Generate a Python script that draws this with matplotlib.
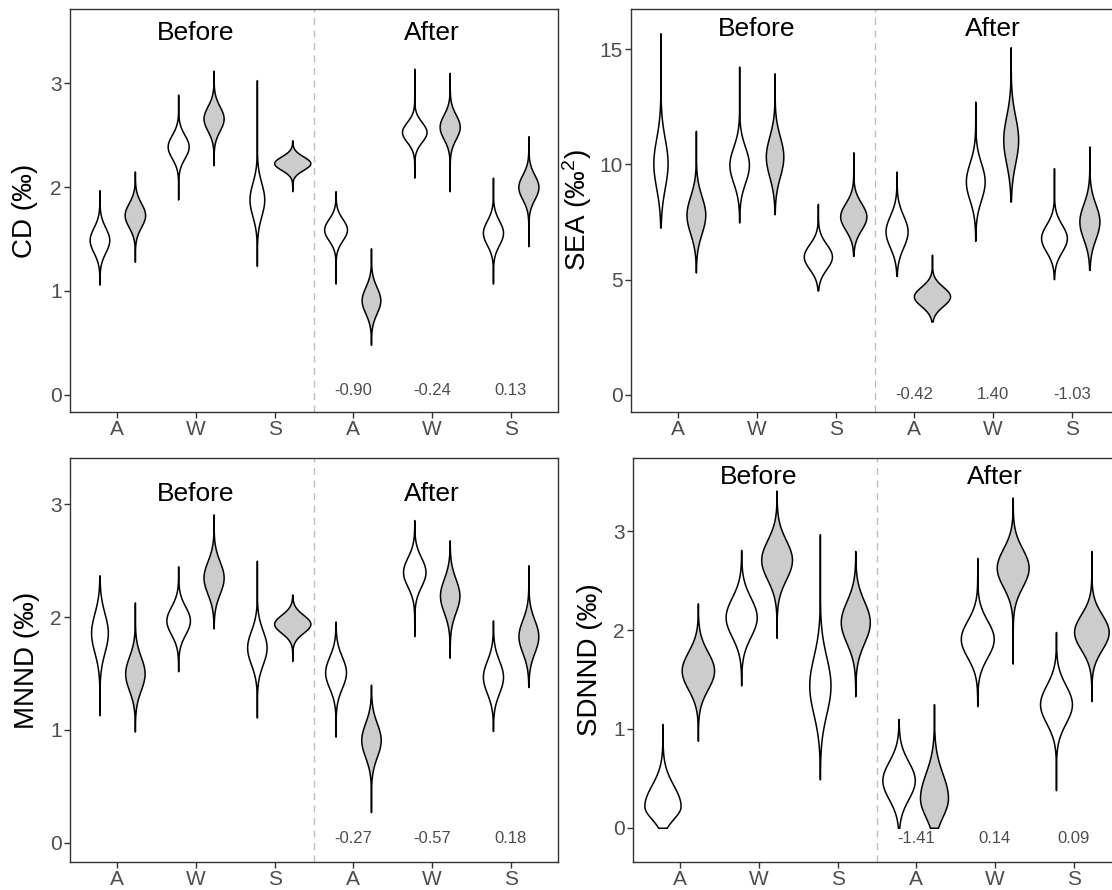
import numpy as np
import matplotlib.pyplot as plt

plt.rcParams["font.family"] = ["Liberation Sans", "DejaVu Sans"]
plt.rcParams["mathtext.fontset"] = "custom"
plt.rcParams["mathtext.rm"] = "Liberation Sans"
plt.rcParams["mathtext.it"] = "Liberation Sans:italic"

# ── Data ──────────────────────────────────────────────────────────────────────
# x groups: season within period; each group has a white and a grey violin
seasons = ["A", "W", "S", "A", "W", "S"]
periods = ["Before", "After"]

# Per violin (A-white, A-grey, W-white, W-grey, S-white, S-grey; before then after):
# posterior mode, spread, lower/upper tail ends
CD_mid = [1.49, 1.73, 2.39, 2.66, 1.88, 2.23, 1.59, 0.91, 2.53, 2.58, 1.56, 2.00]
CD_sd = [0.12, 0.115, 0.112, 0.117, 0.16, 0.065, 0.103, 0.126, 0.096, 0.117, 0.117, 0.117]
CD_lo = [1.06, 1.28, 1.88, 2.21, 1.24, 1.96, 1.07, 0.48, 2.09, 1.96, 1.07, 1.43]
CD_hi = [1.97, 2.15, 2.89, 3.12, 3.03, 2.45, 1.96, 1.41, 3.14, 3.10, 2.09, 2.49]
CD_diff = [-0.90, -0.24, 0.13]

SEA_mid = [10.05, 7.81, 9.98, 10.34, 6.00, 7.74, 7.09, 4.27, 9.26, 11.07, 6.80, 7.52]
SEA_sd = [1.07, 0.81, 0.78, 0.87, 0.54, 0.58, 0.69, 0.42, 0.81, 1.02, 0.59, 0.76]
SEA_lo = [7.26, 5.31, 7.48, 7.84, 4.53, 6.03, 5.16, 3.18, 6.68, 8.39, 5.02, 5.42]
SEA_hi = [15.70, 11.46, 14.25, 13.96, 8.29, 10.53, 9.69, 6.08, 12.73, 15.09, 9.84, 10.78]
SEA_diff = [-0.42, 1.40, -1.03]

MNND_mid = [1.86, 1.50, 1.97, 2.35, 1.73, 1.94, 1.51, 0.91, 2.40, 2.19, 1.47, 1.83]
MNND_sd = [0.173, 0.149, 0.123, 0.144, 0.149, 0.08, 0.139, 0.149, 0.129, 0.149, 0.144, 0.146]
MNND_lo = [1.13, 0.985, 1.52, 1.90, 1.11, 1.61, 0.94, 0.27, 1.83, 1.64, 0.99, 1.38]
MNND_hi = [2.37, 2.13, 2.45, 2.91, 2.50, 2.20, 1.96, 1.40, 2.86, 2.68, 1.97, 2.46]
MNND_diff = [-0.27, -0.57, 0.18]

SDNND_mid = [0.22, 1.59, 2.13, 2.71, 1.44, 2.08, 0.48, 0.30, 1.91, 2.63, 1.25, 1.98]
SDNND_sd = [0.13, 0.19, 0.198, 0.20, 0.29, 0.212, 0.19, 0.19, 0.187, 0.193, 0.193, 0.178]
SDNND_sd_up = [0.21, 0.19, 0.198, 0.20, 0.29, 0.212, 0.19, 0.25, 0.187, 0.193, 0.193, 0.178]
SDNND_lo = [0.0, 0.88, 1.44, 1.92, 0.49, 1.33, 0.0, 0.0, 1.23, 1.66, 0.38, 1.28]
SDNND_hi = [1.05, 2.27, 2.81, 3.41, 2.97, 2.80, 1.10, 1.25, 2.73, 3.34, 1.98, 2.80]
SDNND_diff = [-1.41, 0.14, 0.09]

FILLS = ["white", "#CCCCCC"]
AX_COL = "#333333"
TXT_COL = "#4D4D4D"


def draw_panel(ax, mid, sd, lo, hi, diff, ylabel, ylim, yticks, head_y, diff_y,
               sd_up=None, label_x=-0.065):
    if sd_up is None:
        sd_up = sd
    sd_dn = np.asarray(sd, float)
    sd_up = np.asarray(sd_up, float)
    # same area for every violin -> width follows peak density
    peaks = 2.0 / (np.sqrt(2 * np.pi) * (sd_dn + sd_up))
    widths = 0.46 * peaks / peaks.max()

    stats = []
    for m, s1, s2, a, b in zip(mid, sd_dn, sd_up, lo, hi):
        y = np.linspace(a, b, 500)
        s = np.where(y < m, s1, s2)
        dens = np.exp(-0.5 * ((y - m) / s) ** 2)
        stats.append(dict(coords=y, vals=dens, mean=m, median=m, min=a, max=b))

    pos = [g + off for g in range(1, 7) for off in (-0.225, 0.225)]
    parts = ax.violin(stats, positions=pos, widths=widths,
                      showmeans=False, showextrema=False, showmedians=False)
    for i, body in enumerate(parts["bodies"]):
        body.set_facecolor(FILLS[i % 2])
        body.set_edgecolor("black")
        body.set_linewidth(1.1)
        body.set_alpha(1)

    ax.axvline(3.5, color="#BEBEBE", lw=1.0, ls=(0, (5, 4)))
    ax.text(2, head_y, periods[0], ha="center", va="center", fontsize=19)
    ax.text(5, head_y, periods[1], ha="center", va="center", fontsize=19)
    for k, v in enumerate(diff):
        ax.text(4 + k, diff_y, f"{v:.2f}", ha="center", va="center",
                fontsize=12, color=TXT_COL)

    ax.set_xlim(0.4, 6.6)
    ax.set_ylim(*ylim)
    ax.set_xticks(range(1, 7))
    ax.set_xticklabels(seasons)
    ax.set_yticks(yticks)
    ax.set_ylabel(ylabel, fontsize=20)
    ax.yaxis.set_label_coords(label_x, 0.5)
    ax.tick_params(direction="out", length=4, width=1, color=AX_COL,
                   labelsize=15, labelcolor=TXT_COL, pad=2)
    for sp in ax.spines.values():
        sp.set_color(AX_COL)
        sp.set_linewidth(1.0)


fig = plt.figure(figsize=(11.12, 8.9), dpi=100)
ax1 = fig.add_axes([0.0629, 0.5371, 0.4388, 0.4528])
ax2 = fig.add_axes([0.5674, 0.5371, 0.4388, 0.4528])
ax3 = fig.add_axes([0.0629, 0.0315, 0.4388, 0.4539])
ax4 = fig.add_axes([0.5692, 0.0315, 0.4388, 0.4539])

draw_panel(ax1, CD_mid, CD_sd, CD_lo, CD_hi, CD_diff, "CD (‰)",
           (-0.167, 3.715), [0, 1, 2, 3], 3.48, 0.04, label_x=-0.065)
draw_panel(ax2, SEA_mid, SEA_sd, SEA_lo, SEA_hi, SEA_diff, "SEA (‰$^{2}$)",
           (-0.75, 16.75), [0, 5, 10, 15], 15.87, 0.0, label_x=-0.075)
draw_panel(ax3, MNND_mid, MNND_sd, MNND_lo, MNND_hi, MNND_diff, "MNND (‰)",
           (-0.171, 3.41), [0, 1, 2, 3], 3.09, 0.035, label_x=-0.061)
draw_panel(ax4, SDNND_mid, SDNND_sd, SDNND_lo, SDNND_hi, SDNND_diff, "SDNND (‰)",
           (-0.346, 3.74), [0, 1, 2, 3], 3.545, -0.11, sd_up=SDNND_sd_up,
           label_x=-0.062)

fig.savefig("out.png", dpi=100)
